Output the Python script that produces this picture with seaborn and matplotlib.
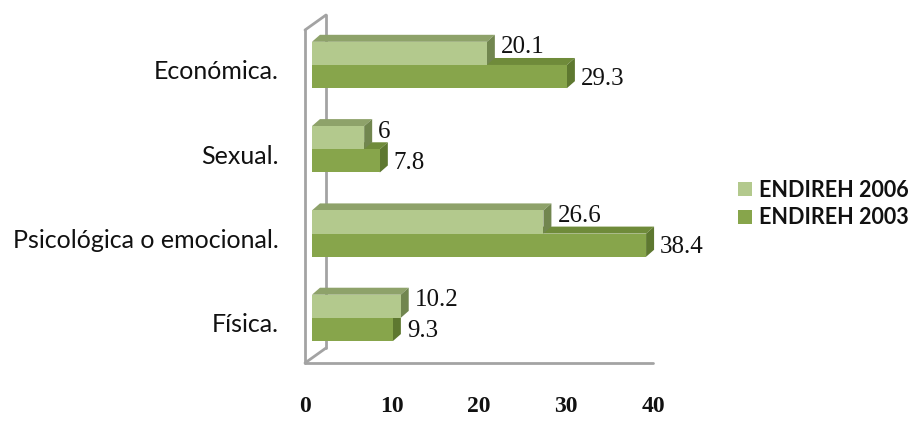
import matplotlib
matplotlib.use("Agg")
import matplotlib.pyplot as plt
import matplotlib.transforms as mtransforms
from matplotlib.patches import Polygon
import seaborn as sns
import pandas as pd

# Tipos de violencia y porcentajes por encuesta
categorias = ["Económica.", "Sexual.", "Psicológica o emocional.", "Física."]
endireh_2006 = [20.1, 6, 26.6, 10.2]
endireh_2003 = [29.3, 7.8, 38.4, 9.3]
series = ["ENDIREH 2006", "ENDIREH 2003"]
ticks = [0, 10, 20, 30, 40]

df = pd.DataFrame({
    "tipo": categorias * 2,
    "valor": endireh_2006 + endireh_2003,
    "encuesta": [series[0]] * 4 + [series[1]] * 4,
})

front = {"ENDIREH 2006": "#B3C98D", "ENDIREH 2003": "#87A54B"}
top_face = {"ENDIREH 2006": "#8EA26A", "ENDIREH 2003": "#6F8B3A"}
side_face = {"ENDIREH 2006": "#71864F", "ENDIREH 2003": "#5E7830"}

sns.set_theme(style="white")
plt.rcParams["font.family"] = ["Lato", "DejaVu Sans"]

W, H = 923, 422
fig = plt.figure(figsize=(W / 100, H / 100), dpi=100)
ax = fig.add_axes([305 / W, (H - 363) / H, 355 / W, 333 / H])

sns.barplot(data=df, x="valor", y="tipo", hue="encuesta", hue_order=series,
            order=categorias, palette=front, width=0.55, orient="h",
            saturation=1, linewidth=0, ax=ax)

ax.set_xlim(-0.8, 40)
ax.set_ylim(3.535, -0.415)

# pixel -> data scale for the 3D depth
px_x = 40.8 / 355
px_y = 3.95 / 333
dx, dy = 8 * px_x, 7 * px_y

colors_by_patch = []
for s in series:
    colors_by_patch += [s] * len(categorias)

bars = [p for p in ax.patches if p.get_width() > 0]
order_pairs = list(zip(bars, colors_by_patch))
# draw the lower series first so the upper one overlaps its top face
for z, target in ((2, series[1]), (3, series[0])):
    for p, s in order_pairs:
        if s != target:
            continue
        x0, y0 = p.get_x(), p.get_y()
        w, h = p.get_width(), p.get_height()
        yt, yb = min(y0, y0 + h), max(y0, y0 + h)
        x1 = x0 + w
        p.set_zorder(z + 0.5)
        ax.add_patch(Polygon([(x0, yt), (x1, yt), (x1 + dx, yt - dy), (x0 + dx, yt - dy)],
                             closed=True, facecolor=top_face[s], edgecolor="none", zorder=z))
        ax.add_patch(Polygon([(x1, yt), (x1 + dx, yt - dy), (x1 + dx, yb - dy), (x1, yb)],
                             closed=True, facecolor=side_face[s], edgecolor="none", zorder=z))
        voff = -6 if s == series[0] else 2
        ax.annotate(f"{p.get_width():g}", xy=(x1, (yt + yb) / 2), xytext=(14 * 0.72, -voff * 0.72),
                    textcoords="offset points", ha="left", va="center",
                    fontsize=18, family="Liberation Serif", color="#111111", zorder=6)

# chart walls and floor
wall = dict(color="#A3A3A3", lw=2, clip_on=False, solid_capstyle="round", zorder=1)
xl, yt0, yb0 = -0.8, -0.415, 3.535
ax.plot([xl, xl], [yt0, yb0], **wall)
ax.plot([xl, xl + 21 * px_x], [yt0, yt0 - 15 * px_y], **wall)
ax.plot([xl + 21 * px_x] * 2, [yt0 - 15 * px_y, yb0 - 15 * px_y], **wall)
ax.plot([xl, xl + 21 * px_x], [yb0, yb0 - 15 * px_y], **wall)
ax.plot([xl, 39.2], [yb0, yb0], **wall)

for sp in ax.spines.values():
    sp.set_visible(False)
ax.set_xlabel("")
ax.set_ylabel("")
ax.set_xticks([])
ax.set_yticks([])

# category labels, right-aligned left of the front wall
cat_shift = mtransforms.ScaledTranslation(-26 / 100, -7 / 100, fig.dpi_scale_trans)
for i, c in enumerate(categorias):
    ax.text(0, i, c, transform=ax.get_yaxis_transform() + cat_shift,
            ha="right", va="center", fontsize=18, color="#111111")

# value axis labels
shift = mtransforms.ScaledTranslation(-7 / 100, -43 / 100, fig.dpi_scale_trans)
for t in ticks:
    ax.text(t, 0, str(t), transform=ax.get_xaxis_transform() + shift,
            ha="center", va="center", fontsize=17, family="Liberation Serif",
            fontweight="bold", color="#111111")

sns.move_legend(ax, "center left", bbox_to_anchor=(738 / W, 1 - 204 / H),
                bbox_transform=fig.transFigure, title=None, frameon=False,
                fontsize=15.5, handlelength=0.63, handleheight=0.63,
                handletextpad=0.36, labelspacing=0.3,
                borderpad=0, borderaxespad=0)
for txt in ax.get_legend().get_texts():
    txt.set_fontweight("bold")
    txt.set_color("#111111")

fig.savefig("out.png", dpi=100)
